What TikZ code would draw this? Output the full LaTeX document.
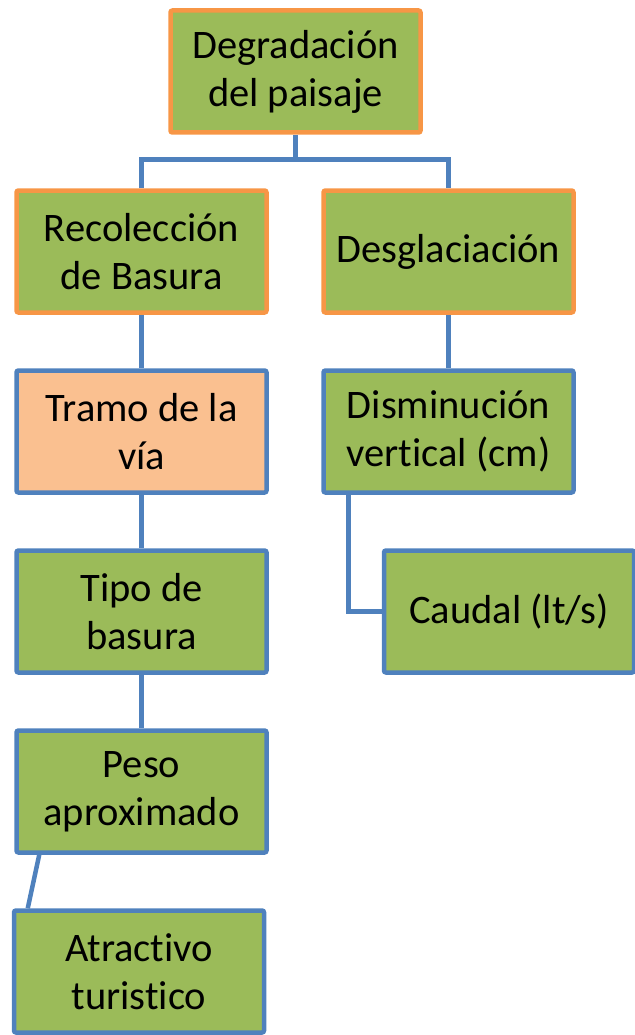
\documentclass[tikz,border=0pt]{standalone}
\usepackage{fontspec}
\setmainfont{Carlito}[Ligatures=NoCommon]
\usetikzlibrary{backgrounds}
\definecolor{boxgreen}{HTML}{9BBB59}
\definecolor{boxorange}{HTML}{F79646}
\definecolor{boxblue}{HTML}{4F81BD}
\definecolor{boxpeach}{HTML}{FAC090}
\begin{document}
\begin{tikzpicture}[x=1pt,y=-1pt,
  basebox/.style={rectangle, line width=4.5pt, rounded corners=2pt, fill=boxgreen,
    minimum width=250pt, minimum height=122pt, inner sep=0pt, align=center,
    font=\fontsize{40.5}{48}\selectfont, text=black},
  obox/.style={basebox, draw=boxorange},
  bbox/.style={basebox, draw=boxblue},
  conn/.style={draw=boxblue, line width=4.5pt}]
\useasboundingbox (0,0) rectangle (634,1035);
\node[obox] (deg) at (295.5,71.5) {Degradación\\del paisaje};
\node[obox] (rec) at (141.5,251.5) {Recolección\\de Basura};
\node[obox] (des) at (448.5,251.5) {Desglaciación};
\node[bbox, fill=boxpeach] (tra) at (141.5,431.5) {Tramo de la\\vía};
\node[bbox] (dis) at (448.5,431.5) {Disminución\\vertical (cm)};
\node[bbox] (cau) at (509,611.5) {Caudal (lt/s)};
\node[bbox] (tip) at (141.5,611.5) {Tipo de\\basura};
\node[bbox] (pes) at (141.5,791.5) {Peso\\aproximado};
\node[bbox] (atr) at (139,971.5) {Atractivo\\turistico};
\begin{scope}[on background layer]
\coordinate (j) at ([yshift=-25pt]deg.south);
\draw[conn] (deg.south) -- (j);
\draw[conn] (rec.north) |- (j) -| (des.north);
\draw[conn] (rec.south) -- (tra.north);
\draw[conn] (des.south) -- (dis.north);
\draw[conn] (tra.south) -- (tip.north);
\draw[conn] (tip.south) -- (pes.north);
\draw[conn] ([xshift=27pt]dis.south west) |- (cau.west);
\draw[conn] ([xshift=25pt]pes.south west) -- ([xshift=16pt]atr.north west);
\end{scope}
\end{tikzpicture}
\end{document}
